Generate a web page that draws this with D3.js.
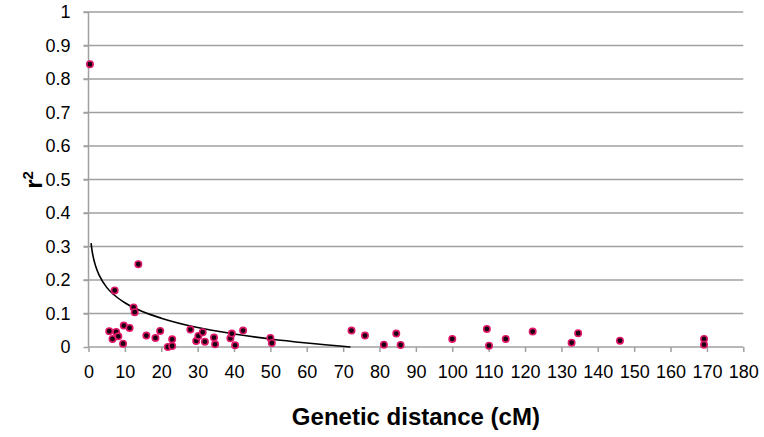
<!DOCTYPE html>
<html>
<head>
<meta charset="utf-8">
<script src="https://cdn.jsdelivr.net/npm/d3@7"></script>
<style>
  html, body { margin: 0; padding: 0; background: #fff; }
  svg { display: block; font-family: "Liberation Sans", Arial, sans-serif; }
</style>
</head>
<body>
<svg id="chart"></svg>
<script>
// observed pairs: genetic distance (cM) vs r2
const distance = [0.4, 5.7, 6.6, 7.2, 7.6, 8.2, 9.5, 9.7, 11.3, 12.4, 12.7, 13.7, 15.9, 18.4, 19.7,
    21.8, 23.0, 23.0, 28.0, 29.6, 30.2, 31.4, 32.0, 34.5, 34.8, 39.0, 39.4, 40.3, 42.5,
    50.0, 50.4, 72.3, 76.0, 81.2, 84.6, 85.8, 100.0, 109.5, 110.1, 114.7, 122.1,
    132.8, 134.6, 146.1, 169.2, 169.2];
const r2 = [0.844, 0.047, 0.024, 0.169, 0.045, 0.032, 0.010, 0.064, 0.057, 0.118, 0.104, 0.247, 0.034, 0.027, 0.048,
    0.000, 0.023, 0.003, 0.052, 0.018, 0.033, 0.044, 0.016, 0.028, 0.008, 0.026, 0.040, 0.005, 0.049,
    0.027, 0.012, 0.049, 0.034, 0.007, 0.040, 0.006, 0.024, 0.054, 0.004, 0.024, 0.046,
    0.013, 0.041, 0.019, 0.024, 0.007];

// trend line
const trendX = [0.7, 1, 2, 3, 5, 7, 10, 15, 20, 30, 40, 50, 60, 72];
const trendY = [0.31, 0.286, 0.240, 0.213, 0.178, 0.156, 0.132, 0.105, 0.086, 0.058, 0.039, 0.024, 0.012, 0.0];

const xTicks = d3.range(0, 181, 10);
const yTicks = [0, 0.1, 0.2, 0.3, 0.4, 0.5, 0.6, 0.7, 0.8, 0.9, 1];

const width = 764, height = 437;
const plotL = 88.5, plotR = 743.3, plotT = 12, plotB = 347;

const svg = d3.select('#chart')
    .attr('width', width)
    .attr('height', height);

const x = d3.scaleLinear().domain([0, 180]).range([plotL, plotR]);
const y = d3.scaleLinear().domain([0, 1]).range([plotB, plotT]);

// horizontal gridlines
svg.append('g')
    .selectAll('line')
    .data(yTicks.filter(d => d > 0))
    .enter()
    .append('line')
    .attr('x1', plotL - 5)
    .attr('x2', plotR)
    .attr('y1', d => y(d))
    .attr('y2', d => y(d))
    .attr('stroke', '#a0a0a0')
    .attr('stroke-width', 1.5);

// y axis
const gy = svg.append('g')
    .attr('transform', `translate(${plotL},0)`)
    .call(d3.axisLeft(y).tickValues(yTicks).tickSize(5).tickPadding(13)
        .tickFormat(d => d3.format('~g')(d)));
gy.selectAll('line, path').attr('stroke', '#a0a0a0').attr('stroke-width', 1.5);
gy.select('.domain').attr('d', `M0,${y(0)}V${y(1)}`);
gy.selectAll('text').attr('font-size', 18).attr('fill', '#000')
    .attr('font-family', '"Liberation Sans", Arial, sans-serif');

// x axis
const gx = svg.append('g')
    .attr('transform', `translate(0,${plotB})`)
    .call(d3.axisBottom(x).tickValues(xTicks).tickSize(5).tickPadding(13));
gx.selectAll('line, path').attr('stroke', '#a0a0a0').attr('stroke-width', 1.5);
gx.select('.domain').attr('d', `M${plotL},0H${plotR}`);
gx.selectAll('text').attr('font-size', 18).attr('fill', '#000')
    .attr('font-family', '"Liberation Sans", Arial, sans-serif');

// trend line
const trend = trendX.map((d, i) => [d, trendY[i]]);
svg.append('path')
    .datum(trend)
    .attr('fill', 'none')
    .attr('stroke', '#000')
    .attr('stroke-width', 1.6)
    .attr('d', d3.line().x(d => x(d[0])).y(d => y(d[1])).curve(d3.curveMonotoneX));

// points
svg.append('g')
    .selectAll('circle')
    .data(distance)
    .enter()
    .append('circle')
    .attr('cx', d => x(d))
    .attr('cy', (d, i) => y(r2[i]))
    .attr('r', 3.2)
    .attr('fill', '#1a0010')
    .attr('stroke', '#e0186a')
    .attr('stroke-width', 1.6);

// axis titles
svg.append('text')
    .attr('x', (plotL + plotR) / 2)
    .attr('y', 425)
    .attr('text-anchor', 'middle')
    .attr('font-size', 24)
    .attr('font-weight', 'bold')
    .text('Genetic distance (cM)');

const yt = svg.append('text')
    .attr('transform', 'translate(42,180) rotate(-90)')
    .attr('text-anchor', 'middle')
    .attr('font-size', 24)
    .attr('font-weight', 'bold');
yt.append('tspan').text('r');
yt.append('tspan').attr('font-size', 15).attr('dy', -9).text('2');
</script>
</body>
</html>
